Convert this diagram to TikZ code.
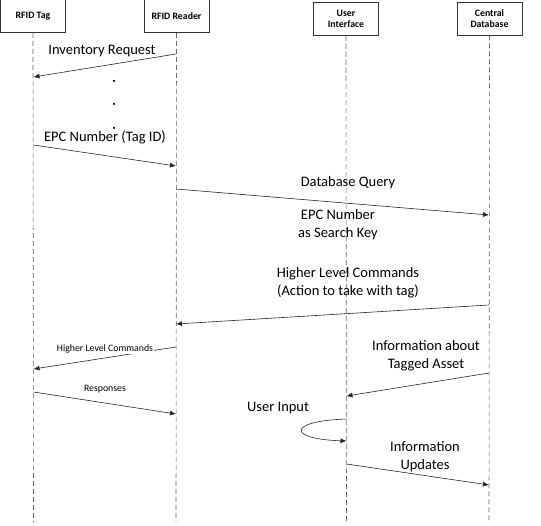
\documentclass[tikz,border=0pt]{standalone}
\usepackage{fontspec}
\setmainfont{Carlito}
\usetikzlibrary{arrows.meta}

\tikzset{
	actor/.style={draw=black!80, line width=0.7pt, align=center, minimum width=65pt, minimum height=33pt, inner sep=1pt, font=\bfseries\fontsize{9.8}{11.5}\selectfont},
	lifeline/.style={draw=black!60, dash pattern=on 5pt off 3pt, line width=0.6pt},
	msg/.style={draw=black!85, line width=0.6pt, -{Latex[length=6pt,width=5pt]}},
	biglabel/.style={align=center, font=\fontsize{14.5}{18}\selectfont},
	smalllabel/.style={align=center, font=\fontsize{9.8}{11}\selectfont}
}

\begin{document}
\begin{tikzpicture}[x=1pt,y=-1pt]
	\useasboundingbox (0,0) rectangle (541,526);

	\node[actor] at (33,16) (rfid-tag) {RFID Tag};
	\node[actor] at (176.5,16) (rfid-reader) {RFID Reader};
	\node[actor] at (346,19) (user-interface) {User\\Interface};
	\node[actor] at (489.5,18.5) (central-db) {Central\\Database};

	\coordinate (tag-end) at (33.5,522);
	\coordinate (reader-end) at (176,522);
	\coordinate (ui-end) at (346.5,522);
	\coordinate (db-end) at (489,522);
	\draw[lifeline] (rfid-tag.south) -- (tag-end);
	\draw[lifeline] (rfid-reader.south) -- (reader-end);
	\draw[lifeline] (user-interface.south) -- (ui-end);
	\draw[lifeline] (central-db.south) -- (db-end);

	\coordinate (inv-s) at (176,54);
	\coordinate (inv-e) at (33.5,77);
	\draw[msg] (inv-s) to (inv-e);
	\node[biglabel] at (102,51) (inv-label) {Inventory Request};

	\node[circle, fill=black, inner sep=0pt, minimum size=2.5pt] at (114,81) (dot-a) {};
	\node[circle, fill=black, inner sep=0pt, minimum size=2.5pt] at (114,104) (dot-b) {};
	\node[circle, fill=black, inner sep=0pt, minimum size=2.5pt] at (114,128) (dot-c) {};

	\coordinate (epc-s) at (33.5,145);
	\coordinate (epc-e) at (176,166);
	\draw[msg] (epc-s) to (epc-e);
	\node[biglabel] at (105,137) (epc-label) {EPC Number (Tag ID)};

	\coordinate (query-s) at (176,189);
	\coordinate (query-e) at (489,215);
	\draw[msg] (query-s) to (query-e);
	\node[biglabel] at (348,183) (query-label) {Database Query};
	\node[biglabel] at (338,225) (key-label) {EPC Number\\as Search Key};

	\coordinate (cmd-s) at (489,305);
	\coordinate (cmd-e) at (176,324);
	\draw[msg] (cmd-s) to (cmd-e);
	\node[biglabel] at (348,283) (cmd-label) {Higher Level Commands\\(Action to take with tag)};

	\coordinate (tagcmd-s) at (176,347);
	\coordinate (tagcmd-e) at (33.5,369);
	\draw[msg] (tagcmd-s) to (tagcmd-e);
	\node[smalllabel, fill=white, inner sep=0.5pt] at (105,349) (tagcmd-label) {Higher Level Commands};

	\coordinate (info-s) at (489,373);
	\coordinate (info-e) at (346.5,396);
	\draw[msg] (info-s) to (info-e);
	\node[biglabel] at (426,356) (info-label) {Information about\\Tagged Asset};

	\coordinate (resp-s) at (33.5,392);
	\coordinate (resp-e) at (176,414);
	\draw[msg] (resp-s) to (resp-e);
	\node[smalllabel] at (105,389) (resp-label) {Responses};

	\coordinate (input-s) at (346.5,419);
	\coordinate (input-e) at (346.5,441);
	\draw[msg] (input-s) .. controls (287,421) and (287,439) .. (input-e);
	\node[biglabel] at (278,408) (input-label) {User Input};

	\coordinate (upd-s) at (346.5,464);
	\coordinate (upd-e) at (489,485);
	\draw[msg] (upd-s) to (upd-e);
	\node[biglabel] at (425,457) (upd-label) {Information\\Updates};
\end{tikzpicture}
\end{document}
